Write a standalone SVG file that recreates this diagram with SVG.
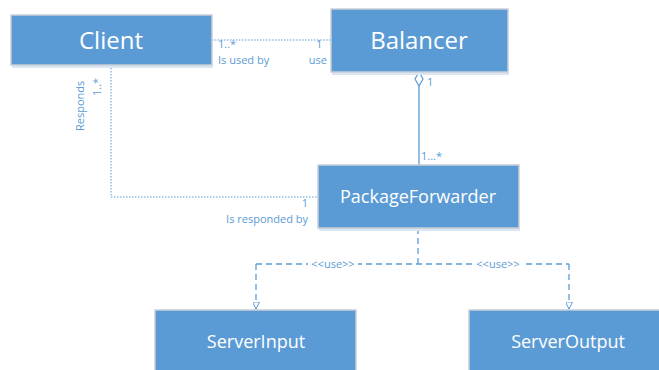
<svg xmlns="http://www.w3.org/2000/svg" width="659" height="370" viewBox="0 0 659 370">
  <defs>
    <marker id="open-tri" viewBox="0 0 10 10" refX="10" refY="5" markerWidth="7" markerHeight="7" orient="auto" markerUnits="userSpaceOnUse">
      <path d="M0,0 L10,5 L0,10 Z" fill="#fff" stroke="#5B9BD5" stroke-width="1.4"/>
    </marker>
  </defs>
  <style>
    .box { fill: #5B9BD5; stroke: #C8CED6; stroke-width: 1.5; }
    .shadow { fill: #DCE6F2; }
    .name { fill: #fff; font-family: "Open Sans", "Noto Sans", sans-serif; text-anchor: middle; }
    .lbl { fill: #5B9BD5; font-family: "Open Sans", "Noto Sans", sans-serif; font-size: 11px; }
    .dot { fill: none; stroke: #5B9BD5; stroke-width: 1; stroke-dasharray: 1.5 1.5; }
    .solid { fill: none; stroke: #5B9BD5; stroke-width: 1.3; }
    .dash { fill: none; stroke: #5B9BD5; stroke-width: 1.3; stroke-dasharray: 6 4; }
  </style>
  <rect width="659" height="370" fill="#fff"/>

  <g id="connectors">
    <!-- Client - Balancer association -->
    <line class="dot" x1="212" y1="40" x2="331" y2="40"/>
    <text class="lbl" x="218" y="48">1..*</text>
    <text class="lbl" x="218" y="64">Is used by</text>
    <text class="lbl" x="316" y="48">1</text>
    <text class="lbl" x="327" y="64" text-anchor="end">use</text>

    <!-- Client - PackageForwarder association -->
    <polyline class="dot" points="111,65 111,197 318,197"/>
    <text class="lbl" transform="translate(84,131) rotate(-90)">Responds</text>
    <text class="lbl" transform="translate(101,96) rotate(-90)">1..*</text>
    <text class="lbl" x="308" y="207" text-anchor="end">1</text>
    <text class="lbl" x="308" y="223" text-anchor="end">Is responded by</text>

    <!-- Balancer aggregation of PackageForwarder -->
    <line class="solid" x1="419" y1="86" x2="419" y2="165"/>
    <path d="M419,72 L423,79 L419,86 L415,79 Z" fill="#fff" stroke="#5B9BD5" stroke-width="1.2"/>
    <text class="lbl" x="427" y="86">1</text>
    <text class="lbl" x="421" y="160">1...*</text>

    <!-- use dependencies -->
    <line class="dash" x1="418" y1="228" x2="418" y2="264"/>
    <line class="dash" x1="256" y1="264" x2="569" y2="264"/>
    <line class="dash" x1="256" y1="264" x2="256" y2="309" marker-end="url(#open-tri)"/>
    <line class="dash" x1="569" y1="264" x2="569" y2="309" marker-end="url(#open-tri)"/>
    <rect x="308" y="258" width="50" height="11" fill="#fff"/>
    <rect x="473" y="258" width="50" height="11" fill="#fff"/>
    <text class="lbl" x="333" y="268" text-anchor="middle">&lt;&lt;use&gt;&gt;</text>
    <text class="lbl" x="498" y="268" text-anchor="middle">&lt;&lt;use&gt;&gt;</text>
  </g>

  <g id="client">
    <rect class="shadow" x="12" y="65" width="201" height="3"/>
    <rect class="box" x="11" y="15" width="201" height="50"/>
    <text class="name" x="111" y="49" font-size="24">Client</text>
  </g>

  <g id="balancer">
    <rect class="shadow" x="332" y="72" width="177" height="3"/>
    <rect class="box" x="331" y="9" width="177" height="63"/>
    <text class="name" x="419" y="49" font-size="24">Balancer</text>
  </g>

  <g id="packageforwarder">
    <rect class="shadow" x="319" y="228" width="201" height="3"/>
    <rect class="box" x="318" y="165" width="201" height="63"/>
    <text class="name" x="418" y="203" font-size="18">PackageForwarder</text>
  </g>

  <g id="serverinput">
    <rect class="box" x="155" y="310" width="201" height="70"/>
    <text class="name" x="256" y="348" font-size="18">ServerInput</text>
  </g>

  <g id="serveroutput">
    <rect class="box" x="469" y="310" width="201" height="70"/>
    <text class="name" x="568" y="348" font-size="18">ServerOutput</text>
  </g>
</svg>
